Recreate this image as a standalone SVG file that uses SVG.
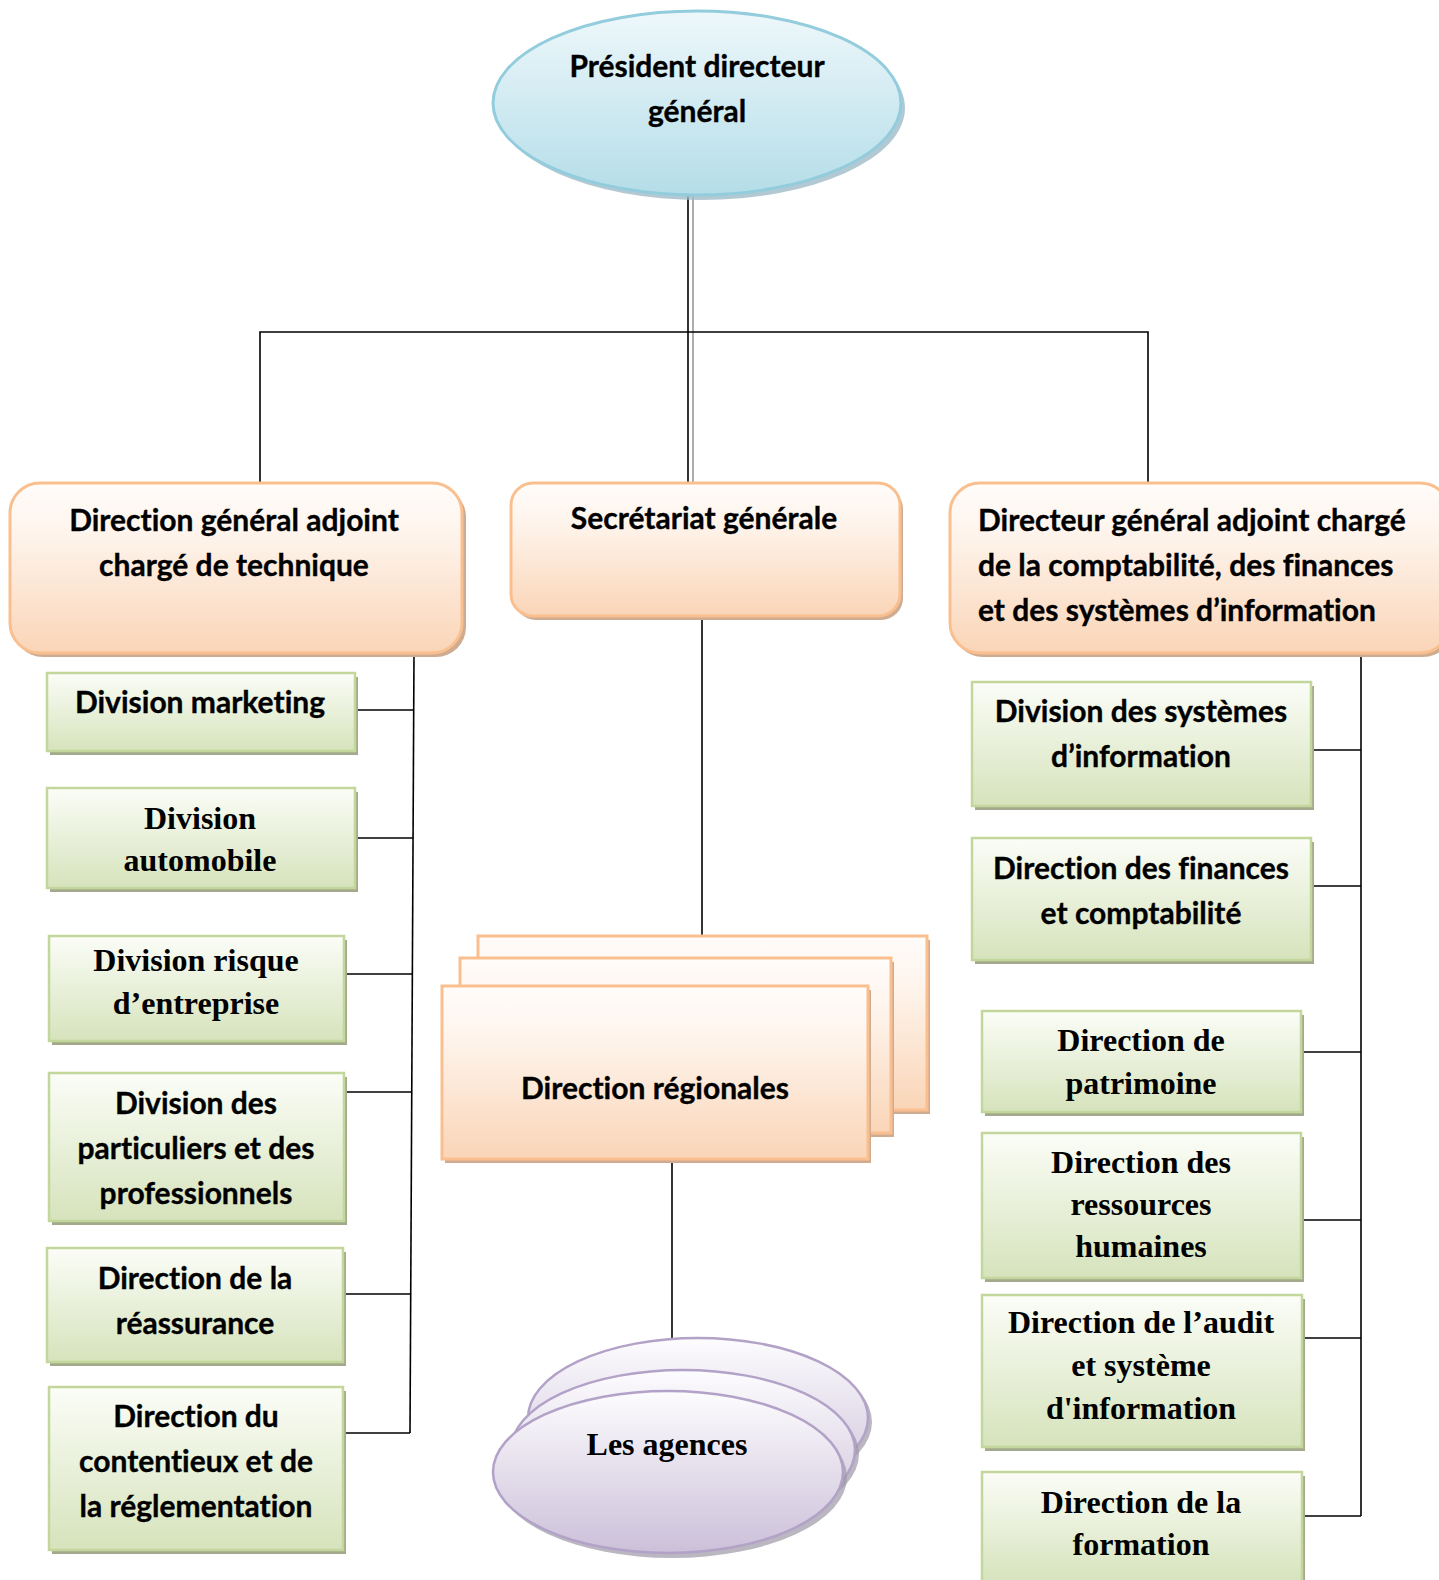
<svg xmlns="http://www.w3.org/2000/svg" width="1439" height="1580" viewBox="0 0 1439 1580">
  <defs>
    <linearGradient id="gBlue" x1="0" y1="0" x2="0" y2="1">
      <stop offset="0" stop-color="#eef8fb"/>
      <stop offset="1" stop-color="#b4dde8"/>
    </linearGradient>
    <linearGradient id="gOrange" x1="0" y1="0" x2="0" y2="1">
      <stop offset="0" stop-color="#fffcfa"/>
      <stop offset="0.3" stop-color="#fef4ec"/>
      <stop offset="1" stop-color="#fad5b7"/>
    </linearGradient>
    <linearGradient id="gGreen" x1="0" y1="0" x2="0" y2="1">
      <stop offset="0" stop-color="#fbfdf7"/>
      <stop offset="1" stop-color="#d6e3bc"/>
    </linearGradient>
    <linearGradient id="gPurple" x1="0" y1="0" x2="0" y2="1">
      <stop offset="0" stop-color="#fdfcfe"/>
      <stop offset="1" stop-color="#cbc0d9"/>
    </linearGradient>
  </defs>
  <style>
    .sans { font-family: Lato, "Open Sans", "Liberation Sans", sans-serif; font-weight: 700; font-size: 30px; fill: #000; stroke: #000; stroke-width: 0.35px; font-variant-ligatures: none; }
    .serif { font-family: "Liberation Serif", "Times New Roman", serif; font-weight: 700; font-size: 32px; fill: #000; }
    .mid { text-anchor: middle; }
    .green { fill: url(#gGreen); stroke: #c3d69b; stroke-width: 2.5; }
    .greenShadow { fill: #a3aa8b; }
    .orange { fill: url(#gOrange); stroke: #f9bf8f; stroke-width: 3; }
    .orangeShadow { fill: #cfab90; }
    .conn { fill: none; stroke: #000; stroke-width: 1.6; }
  </style>

  <rect width="1439" height="1580" fill="#fff"/>

  <!-- connectors -->
  <g id="connectors">
    <line class="conn" x1="688" y1="188" x2="688" y2="483"/>
    <line x1="693" y1="188" x2="693" y2="483" stroke="#8a8a8a" stroke-width="1.4"/>
    <polyline class="conn" points="260,483 260,332 1148,332 1148,483"/>
    <line class="conn" x1="702" y1="616" x2="702" y2="937"/>
    <line class="conn" x1="672" y1="1159" x2="672" y2="1338"/>
    <!-- left branch -->
    <line class="conn" x1="414" y1="653" x2="410" y2="1433"/>
    <line class="conn" x1="355" y1="710" x2="414" y2="710"/>
    <line class="conn" x1="357" y1="838" x2="413" y2="838"/>
    <line class="conn" x1="344" y1="974" x2="412" y2="974"/>
    <line class="conn" x1="344" y1="1092" x2="412" y2="1092"/>
    <line class="conn" x1="343" y1="1294" x2="411" y2="1294"/>
    <line class="conn" x1="343" y1="1433" x2="410" y2="1433"/>
    <!-- right branch -->
    <line class="conn" x1="1361" y1="653" x2="1361" y2="1516"/>
    <line class="conn" x1="1311" y1="750" x2="1361" y2="750"/>
    <line class="conn" x1="1311" y1="886" x2="1361" y2="886"/>
    <line class="conn" x1="1301" y1="1052" x2="1361" y2="1052"/>
    <line class="conn" x1="1301" y1="1220" x2="1361" y2="1220"/>
    <line class="conn" x1="1302" y1="1338" x2="1361" y2="1338"/>
    <line class="conn" x1="1302" y1="1516" x2="1361" y2="1516"/>
  </g>

  <!-- top ellipse -->
  <g id="pdg">
    <ellipse cx="701" cy="108" rx="204" ry="92" fill="#9fbcc8" opacity="0.8"/>
    <ellipse cx="697" cy="103" rx="204" ry="92" fill="url(#gBlue)" stroke="#93cddd" stroke-width="3"/>
    <text class="sans mid" x="697" y="77">Président directeur</text>
    <text class="sans mid" x="697" y="122">général</text>
  </g>

  <!-- second level -->
  <g id="dga-technique">
    <rect class="orangeShadow" x="13" y="487" width="453" height="170" rx="30"/>
    <rect class="orange" x="10" y="483" width="452" height="170" rx="30"/>
    <text class="sans mid" x="234" y="531">Direction général adjoint</text>
    <text class="sans mid" x="234" y="576">chargé de technique</text>
  </g>
  <g id="secretariat">
    <rect class="orangeShadow" x="514" y="487" width="389" height="133" rx="22"/>
    <rect class="orange" x="511" y="483" width="389" height="133" rx="22"/>
    <text class="sans mid" x="704" y="529">Secrétariat générale</text>
  </g>
  <g id="dga-finances">
    <rect class="orangeShadow" x="953" y="487" width="500" height="170" rx="30"/>
    <rect class="orange" x="950" y="483" width="500" height="170" rx="30"/>
    <text class="sans" x="978" y="531">Directeur général adjoint chargé</text>
    <text class="sans" x="978" y="576">de la comptabilité, des finances</text>
    <text class="sans" x="978" y="621">et des systèmes d’information</text>
  </g>

  <!-- left divisions -->
  <g id="div-marketing">
    <rect class="greenShadow" x="50" y="677" width="308" height="78"/>
    <rect class="green" x="47" y="673" width="308" height="78"/>
    <text class="sans mid" x="200" y="713">Division marketing</text>
  </g>
  <g id="div-automobile">
    <rect class="greenShadow" x="50" y="792" width="308" height="100"/>
    <rect class="green" x="47" y="788" width="308" height="100"/>
    <text class="serif mid" x="200" y="829">Division</text>
    <text class="serif mid" x="200" y="871">automobile</text>
  </g>
  <g id="div-risque">
    <rect class="greenShadow" x="52" y="940" width="295" height="105"/>
    <rect class="green" x="49" y="936" width="295" height="105"/>
    <text class="serif mid" x="196" y="971">Division risque</text>
    <text class="serif mid" x="196" y="1014">d’entreprise</text>
  </g>
  <g id="div-particuliers">
    <rect class="greenShadow" x="52" y="1077" width="295" height="148"/>
    <rect class="green" x="49" y="1073" width="295" height="148"/>
    <text class="sans mid" x="196" y="1114">Division des</text>
    <text class="sans mid" x="196" y="1159">particuliers et des</text>
    <text class="sans mid" x="196" y="1204">professionnels</text>
  </g>
  <g id="dir-reassurance">
    <rect class="greenShadow" x="50" y="1252" width="296" height="114"/>
    <rect class="green" x="47" y="1248" width="296" height="114"/>
    <text class="sans mid" x="195" y="1289">Direction de la</text>
    <text class="sans mid" x="195" y="1334">réassurance</text>
  </g>
  <g id="dir-contentieux">
    <rect class="greenShadow" x="52" y="1391" width="294" height="163"/>
    <rect class="green" x="49" y="1387" width="294" height="163"/>
    <text class="sans mid" x="196" y="1427">Direction du</text>
    <text class="sans mid" x="196" y="1472">contentieux et de</text>
    <text class="sans mid" x="196" y="1517">la réglementation</text>
  </g>

  <!-- regional directions (stacked) -->
  <g id="dir-regionales">
    <rect class="orangeShadow" x="481" y="940" width="449" height="174"/>
    <rect class="orange" x="478" y="936" width="449" height="174"/>
    <rect class="orangeShadow" x="463" y="962" width="431" height="175"/>
    <rect class="orange" x="460" y="958" width="431" height="175"/>
    <rect class="orangeShadow" x="445" y="990" width="426" height="173"/>
    <rect class="orange" x="442" y="986" width="426" height="173"/>
    <text class="sans mid" x="655" y="1099">Direction régionales</text>
  </g>

  <!-- agencies (stacked ellipses) -->
  <g id="agences">
    <ellipse cx="702" cy="1422" rx="170" ry="80" fill="#9d98a6" opacity="0.7"/>
    <ellipse cx="698" cy="1418" rx="170" ry="80" fill="url(#gPurple)" stroke="#b3a2c7" stroke-width="2.5"/>
    <ellipse cx="687" cy="1454" rx="172" ry="80" fill="#9d98a6" opacity="0.7"/>
    <ellipse cx="683" cy="1450" rx="172" ry="80" fill="url(#gPurple)" stroke="#b3a2c7" stroke-width="2.5"/>
    <ellipse cx="672" cy="1477" rx="175" ry="81" fill="#9d98a6" opacity="0.7"/>
    <ellipse cx="668" cy="1472" rx="175" ry="81" fill="url(#gPurple)" stroke="#b3a2c7" stroke-width="2.5"/>
    <text class="serif mid" x="667" y="1455">Les agences</text>
  </g>

  <!-- right divisions -->
  <g id="div-si">
    <rect class="greenShadow" x="975" y="686" width="339" height="124"/>
    <rect class="green" x="972" y="682" width="339" height="124"/>
    <text class="sans mid" x="1141" y="722">Division des systèmes</text>
    <text class="sans mid" x="1141" y="767">d’information</text>
  </g>
  <g id="dir-finances">
    <rect class="greenShadow" x="975" y="842" width="339" height="122"/>
    <rect class="green" x="972" y="838" width="339" height="122"/>
    <text class="sans mid" x="1141" y="879">Direction des finances</text>
    <text class="sans mid" x="1141" y="924">et comptabilité</text>
  </g>
  <g id="dir-patrimoine">
    <rect class="greenShadow" x="985" y="1015" width="319" height="101"/>
    <rect class="green" x="982" y="1011" width="319" height="101"/>
    <text class="serif mid" x="1141" y="1051">Direction de</text>
    <text class="serif mid" x="1141" y="1094">patrimoine</text>
  </g>
  <g id="dir-rh">
    <rect class="greenShadow" x="985" y="1137" width="319" height="145"/>
    <rect class="green" x="982" y="1133" width="319" height="145"/>
    <text class="serif mid" x="1141" y="1173">Direction des</text>
    <text class="serif mid" x="1141" y="1215">ressources</text>
    <text class="serif mid" x="1141" y="1257">humaines</text>
  </g>
  <g id="dir-audit">
    <rect class="greenShadow" x="985" y="1299" width="320" height="152"/>
    <rect class="green" x="982" y="1295" width="320" height="152"/>
    <text class="serif mid" x="1141" y="1333">Direction de l’audit</text>
    <text class="serif mid" x="1141" y="1376">et système</text>
    <text class="serif mid" x="1141" y="1419">d'information</text>
  </g>
  <g id="dir-formation">
    <rect class="greenShadow" x="985" y="1476" width="320" height="110"/>
    <rect class="green" x="982" y="1472" width="320" height="110"/>
    <text class="serif mid" x="1141" y="1513">Direction de la</text>
    <text class="serif mid" x="1141" y="1555">formation</text>
  </g>
</svg>
